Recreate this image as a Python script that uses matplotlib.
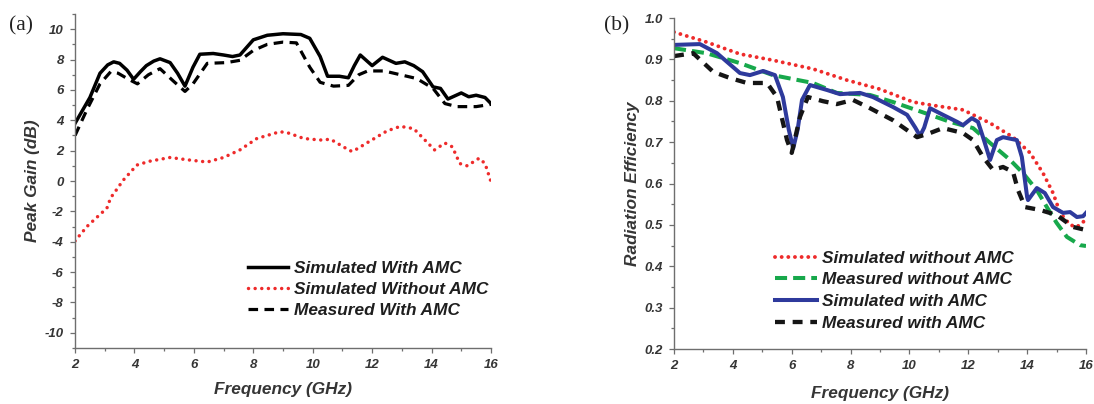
import matplotlib
matplotlib.use("Agg")
import matplotlib.pyplot as plt
from matplotlib.font_manager import FontProperties
from matplotlib.ticker import MultipleLocator, FormatStrFormatter

# ---------------- (a) Peak gain ----------------
freq_sim_amc = [2.0, 2.5, 2.84, 3.1, 3.3, 3.5, 3.75, 3.97, 4.2, 4.4, 4.65, 4.86, 5.2, 5.45, 5.7,
                5.97, 6.2, 6.65, 7.0, 7.3, 7.55, 8.0, 8.47, 9.0, 9.6, 9.9, 10.25, 10.5, 10.9,
                11.2, 11.4, 11.6, 12.0, 12.35, 12.8, 13.1, 13.4, 13.7, 14.05, 14.3, 14.55,
                15.0, 15.25, 15.5, 15.8, 16.0]
gain_sim_amc = [3.8, 5.5, 7.1, 7.65, 7.85, 7.75, 7.3, 6.7, 7.2, 7.6, 7.9, 8.05, 7.8, 7.1, 6.25,
                7.5, 8.35, 8.4, 8.3, 8.2, 8.3, 9.3, 9.6, 9.7, 9.65, 9.4, 8.2, 6.9, 6.9,
                6.8, 7.6, 8.3, 7.6, 8.15, 7.75, 7.85, 7.6, 7.2, 6.2, 6.1, 5.4,
                5.8, 5.55, 5.65, 5.5, 5.1]

freq_meas_amc = [2.0, 2.4, 2.84, 3.2, 3.45, 3.8, 4.1, 4.47, 4.86, 5.3, 5.7, 5.97, 6.45, 7.1,
                 7.55, 8.0, 8.47, 9.0, 9.45, 9.9, 10.25, 10.7, 11.2, 11.55, 11.85, 12.4,
                 12.95, 13.5, 14.05, 14.45, 14.85, 15.5, 16.0]
gain_meas_amc = [3.0, 4.7, 6.4, 7.2, 7.1, 6.7, 6.4, 7.0, 7.4, 6.6, 5.9, 6.4, 7.75, 7.8,
                 7.95, 8.6, 9.0, 9.15, 9.1, 7.5, 6.5, 6.25, 6.3, 7.0, 7.25, 7.25,
                 7.0, 6.75, 6.1, 5.1, 4.9, 4.9, 5.05]

freq_sim_noamc = [2.0, 2.4, 2.84, 3.07, 3.2, 3.35, 3.62, 4.08, 4.5, 5.2, 5.77, 6.45, 7.0, 7.55,
                  8.12, 8.9, 9.2, 9.7, 10.25, 10.6, 11.25, 11.35, 11.9, 12.5, 12.95, 13.4,
                  14.0, 14.1, 14.45, 14.7, 14.95, 15.2, 15.6, 15.8, 16.0]
gain_sim_noamc = [-3.95, -3.0, -2.2, -1.8, -1.1, -0.7, 0.05, 1.05, 1.3, 1.55, 1.4, 1.25, 1.55, 2.05,
                  2.8, 3.25, 3.15, 2.8, 2.7, 2.75, 2.0, 1.95, 2.6, 3.3, 3.6, 3.45,
                  2.25, 2.05, 2.5, 2.25, 1.15, 1.0, 1.5, 1.15, -0.05]

legend_a = ["Simulated With AMC", "Simulated Without AMC", "Measured With AMC"]

# ---------------- (b) Radiation efficiency ----------------
freq_eff_sim_noamc = [2.0, 3.1, 4.24, 5.36, 6.72, 7.87, 9.0, 10.12, 10.7, 11.82, 12.74, 13.52,
                      14.1, 14.54, 14.88, 15.12, 15.46, 15.69, 15.97]
eff_sim_noamc = [0.966, 0.942, 0.913, 0.898, 0.877, 0.850, 0.828, 0.797, 0.790, 0.778, 0.746,
                 0.712, 0.674, 0.625, 0.577, 0.529, 0.500, 0.495, 0.511]

freq_eff_meas_noamc = [2.0, 3.1, 4.24, 5.36, 6.72, 7.53, 8.66, 9.44, 10.7, 11.38, 12.16, 12.74,
                       13.42, 13.86, 14.33, 14.67, 15.0, 15.35, 15.8, 16.0]
eff_meas_noamc = [0.927, 0.915, 0.891, 0.862, 0.843, 0.819, 0.814, 0.797, 0.766, 0.749, 0.734,
                  0.698, 0.657, 0.625, 0.584, 0.543, 0.505, 0.471, 0.451, 0.449]

freq_eff_sim_amc = [2.0, 2.88, 3.46, 4.24, 4.58, 5.03, 5.43, 5.70, 5.9, 6.05, 6.2, 6.35, 6.62,
                    7.2, 7.64, 8.32, 8.76, 9.44, 9.92, 10.2, 10.36, 10.5, 10.7, 11.14, 11.62,
                    11.82, 12.12, 12.33, 12.5, 12.74, 12.97, 13.18, 13.65, 13.82, 14.0, 14.03,
                    14.33, 14.6, 14.88, 15.22, 15.46, 15.69, 15.9, 16.0]
eff_sim_amc = [0.935, 0.937, 0.915, 0.867, 0.862, 0.872, 0.862, 0.809, 0.73, 0.685, 0.73, 0.802,
               0.838, 0.826, 0.816, 0.819, 0.809, 0.785, 0.766, 0.735, 0.715, 0.735, 0.782, 0.766,
               0.749, 0.741, 0.758, 0.749, 0.712, 0.657, 0.705, 0.712, 0.705, 0.664, 0.567, 0.56,
               0.589, 0.577, 0.543, 0.529, 0.531, 0.519, 0.521, 0.529]

freq_eff_meas_amc = [2.0, 2.65, 3.33, 3.9, 4.48, 5.16, 5.5, 5.84, 6.0, 6.28, 6.55, 7.06, 7.53,
                     8.08, 8.66, 9.44, 10.26, 10.7, 11.14, 11.82, 12.16, 12.5, 12.84, 13.18,
                     13.52, 13.69, 13.93, 14.44, 15.0, 15.56, 15.97]
eff_meas_amc = [0.908, 0.915, 0.870, 0.855, 0.843, 0.843, 0.809, 0.705, 0.674, 0.761, 0.809,
                0.799, 0.792, 0.802, 0.782, 0.753, 0.712, 0.722, 0.734, 0.722, 0.705, 0.664,
                0.633, 0.640, 0.628, 0.584, 0.543, 0.536, 0.524, 0.495, 0.488]

legend_b = ["Simulated without AMC", "Measured without AMC", "Simulated with AMC",
            "Measured with AMC"]

# ---------------- styling ----------------
SANS = "Liberation Sans"
TEXT = "#353535"
SPINE = "#6e6e6e"
RED = "#ee2b2b"
GREEN = "#17a84b"
BLUE = "#2e3a9c"

plt.rcParams["font.family"] = [SANS, "DejaVu Sans"]

fig = plt.figure(figsize=(10.94, 4.04), dpi=100)
ax_a = fig.add_axes([0.0686, 0.1386, 0.3802, 0.8267])
ax_b = fig.add_axes([0.6161, 0.1361, 0.3766, 0.8193])

tick_prop = FontProperties(family=SANS, weight="bold", style="italic", size=9.5)
label_font = dict(family=SANS, weight="bold", style="italic", size=12.4)
legend_prop = dict(family=SANS, weight="bold", style="italic", size=12.4)


def style_axes(ax):
    for side in ("top", "right"):
        ax.spines[side].set_visible(False)
    for side in ("left", "bottom"):
        ax.spines[side].set_color(SPINE)
        ax.spines[side].set_linewidth(1.0)
    ax.tick_params(which="both", direction="out", color=SPINE, width=0.9, labelcolor=TEXT)
    ax.tick_params(which="major", length=3.6, pad=4.5)
    ax.tick_params(which="minor", length=2.2)
    for lab in ax.get_xticklabels() + ax.get_yticklabels():
        lab.set_fontproperties(tick_prop)


# (a)
ax_a.plot(freq_sim_amc, gain_sim_amc, color="black", lw=2.5, solid_joinstyle="round",
          label=legend_a[0])
ax_a.plot(freq_sim_noamc, gain_sim_noamc, color=RED, lw=2.5, linestyle=(0, (0.01, 1.9)),
          dash_capstyle="round", label=legend_a[1])
ax_a.plot(freq_meas_amc, gain_meas_amc, color="black", lw=2.3, linestyle=(0, (3, 2)),
          label=legend_a[2])
ax_a.set_xlim(2, 16)
ax_a.set_ylim(-11, 11)
ax_a.xaxis.set_major_locator(MultipleLocator(2))
ax_a.xaxis.set_minor_locator(MultipleLocator(1))
ax_a.yaxis.set_major_locator(MultipleLocator(2))
ax_a.yaxis.set_minor_locator(MultipleLocator(1))
ax_a.yaxis.set_major_formatter(FormatStrFormatter("%d"))
style_axes(ax_a)
ax_a.set_xlabel("Frequency (GHz)", color=TEXT, labelpad=7.5, **label_font)
ax_a.set_ylabel("Peak Gain (dB)", color=TEXT, labelpad=3.5, **label_font)
leg_a = ax_a.legend(loc="upper left", bbox_to_anchor=(0.416, 0.262), frameon=False,
                    borderpad=0, borderaxespad=0, handlelength=2.3, handletextpad=0.35,
                    labelspacing=0.36, prop=legend_prop)
for t in leg_a.get_texts():
    t.set_color("#1e1e1e")

# (b)
ax_b.plot(freq_eff_sim_noamc, eff_sim_noamc, color=RED, lw=2.8, linestyle=(0, (0.01, 1.7)),
          dash_capstyle="round", label=legend_b[0])
ax_b.plot(freq_eff_meas_noamc, eff_meas_noamc, color=GREEN, lw=2.9, linestyle=(0, (3, 1.5)),
          label=legend_b[1])
ax_b.plot(freq_eff_sim_amc, eff_sim_amc, color=BLUE, lw=2.9, solid_joinstyle="round",
          label=legend_b[2])
ax_b.plot(freq_eff_meas_amc, eff_meas_amc, color="#151515", lw=3.1, linestyle=(0, (2.3, 1.8)),
          label=legend_b[3])
ax_b.set_xlim(2, 16)
ax_b.set_ylim(0.2, 1.0)
ax_b.xaxis.set_major_locator(MultipleLocator(2))
ax_b.xaxis.set_minor_locator(MultipleLocator(1))
ax_b.yaxis.set_major_locator(MultipleLocator(0.1))
ax_b.yaxis.set_minor_locator(MultipleLocator(0.05))
ax_b.yaxis.set_major_formatter(FormatStrFormatter("%.1f"))
style_axes(ax_b)
ax_b.set_xlabel("Frequency (GHz)", color=TEXT, labelpad=10, **label_font)
ax_b.set_ylabel("Radiation Efficiency", color=TEXT, labelpad=3, **label_font)
leg_b = ax_b.legend(loc="upper left", bbox_to_anchor=(0.245, 0.297), frameon=False,
                    borderpad=0, borderaxespad=0, handlelength=2.45, handletextpad=0.3,
                    labelspacing=0.38, prop=legend_prop)
for t in leg_b.get_texts():
    t.set_color("#1e1e1e")

# panel tags
fig.text(0.008, 0.936, "(a)", family="Liberation Serif", size=15.5, color="#222222", va="center")
fig.text(0.552, 0.936, "(b)", family="Liberation Serif", size=15.5, color="#222222", va="center")

fig.savefig("out.png", dpi=100)
